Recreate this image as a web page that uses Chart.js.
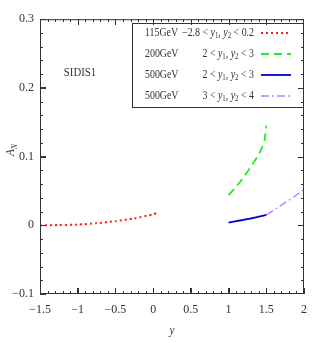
<!DOCTYPE html>
<html>
<head>
<meta charset="utf-8">
<script src="https://cdn.jsdelivr.net/npm/chart.js@4"></script>
<style>
  html, body { margin: 0; padding: 0; background: #fff; }
  #wrap { width: 322px; height: 343px; }
</style>
</head>
<body>
<div id="wrap"><canvas id="c"></canvas></div>
<script>
// values
const red115X = [-1.5, -1.25, -1.0, -0.75, -0.5, -0.25, 0.0, 0.05];
const red115Y = [0.0, 0.0003, 0.001, 0.003, 0.006, 0.010, 0.016, 0.018];

const green200X = [1.0, 1.1, 1.2, 1.3, 1.4, 1.45, 1.48, 1.5];
const green200Y = [0.044, 0.056, 0.070, 0.086, 0.103, 0.115, 0.125, 0.145];

const blue500X = [1.0, 1.1, 1.2, 1.3, 1.4, 1.5];
const blue500Y = [0.004, 0.006, 0.008, 0.010, 0.0125, 0.015];

const purple500X = [1.5, 1.625, 1.75, 1.875, 2.0];
const purple500Y = [0.015, 0.024, 0.033, 0.042, 0.052];

const energies = ["115GeV", "200GeV", "500GeV", "500GeV"];
const ranges = [
    ["−2.8", "0.2"],
    ["2", "3"],
    ["2", "3"],
    ["3", "4"],
];

const xTicks = [-1.5, -1, -0.5, 0, 0.5, 1, 1.5, 2];
const yTicks = [-0.1, 0, 0.1, 0.2, 0.3];

const FONT = "'Liberation Serif', 'DejaVu Serif', serif";
const FRAME = "#333";
const TEXT = "#333";
const SQUEEZE = 0.86; // reference font is narrower than Liberation Serif

const pts = (xs, ys) => xs.map((x, i) => ({ x, y: ys[i] }));
const fmt = (v) => {
    const r = Math.round(v * 100) / 100;
    return r < 0 ? "−" + String(-r) : String(r);
};

const series = [
    { data: pts(red115X, red115Y), color: "#ff1a1a", dash: [2, 3], width: 2 },
    { data: pts(green200X, green200Y), color: "#22ee22", dash: [8, 5], width: 1.8 },
    { data: pts(blue500X, blue500Y), color: "#0000cc", dash: [], width: 1.8 },
    { data: pts(purple500X, purple500Y), color: "#b57cff", dash: [8, 3, 2, 3], width: 1.3 },
];

// draws a list of [text, font, dy] pieces, squeezed horizontally
function drawParts(ctx, parts, x, y, align) {
    let w = 0;
    parts.forEach((p) => { ctx.font = p[1] + " " + FONT; w += ctx.measureText(p[0]).width; });
    ctx.save();
    ctx.translate(x, y);
    ctx.scale(SQUEEZE, 1);
    let cx = align === "right" ? -w : align === "center" ? -w / 2 : 0;
    ctx.textAlign = "left";
    ctx.textBaseline = "middle";
    parts.forEach((p) => {
        ctx.font = p[1] + " " + FONT;
        ctx.fillText(p[0], cx, p[2] || 0);
        cx += ctx.measureText(p[0]).width;
    });
    ctx.restore();
}

// frame, minor/opposite ticks, legend box, labels
const decor = {
    id: "decor",
    afterDraw(chart) {
        const { ctx, chartArea: a, scales } = chart;
        const sx = scales.x, sy = scales.y;
        ctx.save();
        ctx.setLineDash([]);

        const bx = 132, by = 23, bw = a.right - bx, bh = 84;
        ctx.fillStyle = "#fff";
        ctx.fillRect(bx, by, bw, bh);
        ctx.strokeStyle = FRAME;
        ctx.lineWidth = 1;
        ctx.strokeRect(bx + 0.5, by + 0.5, bw - 1, bh);
        const rowY = [33, 54, 75, 96];
        series.forEach((s, i) => {
            const y = rowY[i];
            ctx.fillStyle = TEXT;
            drawParts(ctx, [[energies[i], "11.5px"]], 145, y, "left");
            drawParts(ctx, [
                [ranges[i][0] + " < ", "11.5px"],
                ["y", "italic 11.5px"],
                ["1", "8px", 3],
                [", ", "11.5px"],
                ["y", "italic 11.5px"],
                ["2", "8px", 3],
                [" < " + ranges[i][1], "11.5px"],
            ], 254, y, "right");
            ctx.strokeStyle = s.color;
            ctx.lineWidth = s.width;
            ctx.setLineDash(s.dash);
            ctx.beginPath();
            ctx.moveTo(261, y); ctx.lineTo(291, y);
            ctx.stroke();
        });
        ctx.setLineDash([]);

        ctx.strokeStyle = FRAME;
        ctx.lineWidth = 1;
        ctx.strokeRect(a.left + 0.5, a.top + 0.5, a.right - a.left - 1, a.bottom - a.top - 1);

        ctx.fillStyle = FRAME;
        const L = Math.round(a.left), R = Math.round(a.right);
        const T = Math.round(a.top), B = Math.round(a.bottom);
        for (let i = 0; i <= 35; i++) {
            const px = Math.round(sx.getPixelForValue(-1.5 + i * 0.1));
            const len = i % 5 === 0 ? 6 : 3;
            ctx.fillRect(Math.min(px, R - 1), B - len, 1, len);
            ctx.fillRect(Math.min(px, R - 1), T, 1, len);
        }
        for (let i = 0; i <= 20; i++) {
            const py = Math.round(sy.getPixelForValue(-0.1 + i * 0.02));
            const len = i % 5 === 0 ? 6 : 3;
            ctx.fillRect(L, Math.min(py, B - 1), len, 1);
            ctx.fillRect(R - len, Math.min(py, B - 1), len, 1);
        }

        ctx.fillStyle = TEXT;
        drawParts(ctx, [["SIDIS1", "12.5px"]], 80, 73, "center");

        drawParts(ctx, [["y", "italic 13px"]], (a.left + a.right) / 2, 331, "center");
        ctx.save();
        ctx.translate(11, 150);
        ctx.rotate(-Math.PI / 2);
        drawParts(ctx, [["A", "italic 13px"], ["N", "italic 9px", 4]], 0, 0, "center");
        ctx.restore();
        ctx.restore();
    },
};

// major ticks also through the library's own grid, pointing inward
const inwardGrid = {
    display: true,
    drawOnChartArea: false,
    drawTicks: true,
    tickLength: -6,
    tickColor: FRAME,
    tickWidth: 1,
};

new Chart(document.getElementById("c"), {
    type: "line",
    data: {
        datasets: series.map((s, i) => ({
            label: energies[i],
            data: s.data,
            borderColor: s.color,
            borderWidth: s.width,
            borderDash: s.dash,
            pointRadius: 0,
            tension: 0.2,
            fill: false,
        })),
    },
    options: {
        responsive: true,
        maintainAspectRatio: false,
        animation: false,
        layout: { padding: { top: 18, right: 18, left: 0, bottom: 0 } },
        plugins: { legend: { display: false }, tooltip: { enabled: false } },
        scales: {
            x: {
                type: "linear",
                min: -1.5,
                max: 2,
                afterFit: (s) => { s.height = 49; },
                afterBuildTicks: (s) => { s.ticks = xTicks.map((v) => ({ value: v })); },
                grid: inwardGrid,
                border: { display: false },
                ticks: {
                    padding: 15,
                    autoSkip: false,
                    maxRotation: 0,
                    color: TEXT,
                    font: { family: FONT, size: 12 },
                    callback: (v) => fmt(v),
                },
            },
            y: {
                type: "linear",
                min: -0.1,
                max: 0.3,
                afterFit: (s) => { s.width = 40; },
                afterBuildTicks: (s) => { s.ticks = yTicks.map((v) => ({ value: v })); },
                grid: inwardGrid,
                border: { display: false },
                ticks: {
                    padding: 12,
                    autoSkip: false,
                    color: TEXT,
                    font: { family: FONT, size: 12 },
                    callback: (v) => fmt(v),
                },
            },
        },
    },
    plugins: [decor],
});
</script>
</body>
</html>
